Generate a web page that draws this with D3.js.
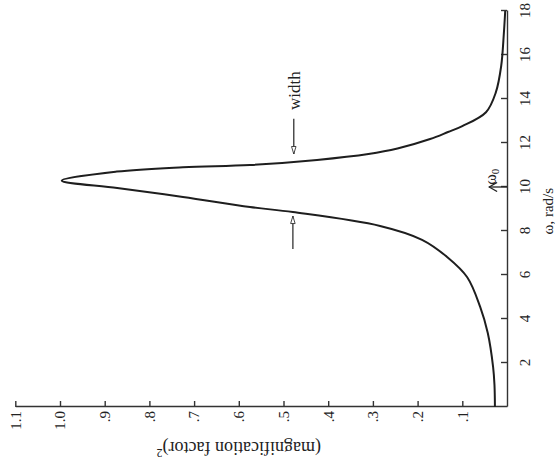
<!DOCTYPE html>
<html lang="en">
<head>
    <meta charset="UTF-8">
    <script src="https://d3js.org/d3.v7.min.js"></script>
    <title>Resonance curve</title>
    <style>
        body { margin: 0; background: #fff; }
        text { font-family: "Liberation Serif", "DejaVu Serif", serif; fill: #222; }
    </style>
</head>
<body>
    <script>
        var omega = [0, 1, 1.8, 3.36, 4.55, 5.9, 6.82, 7.6, 8.23, 8.86, 9.09, 9.55, 9.95, 10.29,
                     10.7, 10.9, 11.0, 11.23, 11.5, 11.75, 12.18, 12.5, 12.77, 13.4, 14.3, 15.5, 17, 18];
        var magSq = [0.027, 0.028, 0.031, 0.043, 0.06, 0.089, 0.134, 0.19, 0.284, 0.479, 0.575, 0.725, 0.872, 0.996,
                     0.873, 0.725, 0.575, 0.425, 0.31, 0.245, 0.172, 0.132, 0.1, 0.047, 0.025, 0.013, 0.007, 0.004];
        var omegaTicks = [2, 4, 6, 8, 10, 12, 14, 16, 18];
        var magTicks = [0.1, 0.2, 0.3, 0.4, 0.5, 0.6, 0.7, 0.8, 0.9, 1.0, 1.1];
        var magLabels = [".1", ".2", ".3", ".4", ".5", ".6", ".7", ".8", ".9", "1.0", "1.1"];

        var data = omega.map(function(w, i) { return { w: w, m: magSq[i] }; });

        var W = 396, H = 491.7;
        var svg = d3.select("body").append("svg")
            .attr("width", 555)
            .attr("height", 471);

        // the chart is printed turned a quarter turn counter-clockwise
        var g = svg.append("g")
            .attr("transform", "translate(15.3,407) rotate(-90)");

        var x = d3.scaleLinear().domain([0, 18]).range([0, W]);
        var y = d3.scaleLinear().domain([0, 1.1]).range([H, 0]);

        var xAxis = g.append("g")
            .attr("transform", "translate(0," + H + ")")
            .call(d3.axisBottom(x).tickValues(omegaTicks).tickSizeInner(-6).tickSizeOuter(0).tickPadding(12));
        xAxis.selectAll("text").attr("font-size", 15);

        var yAxis = g.append("g")
            .call(d3.axisLeft(y).tickValues(magTicks)
                .tickFormat(function(d, i) { return magLabels[i]; })
                .tickSizeInner(-6).tickSizeOuter(0).tickPadding(4));
        yAxis.selectAll("text").attr("font-size", 15);

        g.selectAll(".domain, .tick line").attr("stroke", "#333").attr("stroke-width", 1.4);
        g.selectAll(".tick text").attr("font-family", "Liberation Serif").attr("fill", "#222");

        var line = d3.line()
            .x(function(d) { return x(d.w); })
            .y(function(d) { return y(d.m); })
            .curve(d3.curveCatmullRom.alpha(0.5));

        g.append("path")
            .datum(data)
            .attr("d", line)
            .attr("fill", "none")
            .attr("stroke", "#1e1e1e")
            .attr("stroke-width", 2);

        // arrow heads
        var defs = svg.append("defs");
        defs.append("marker")
            .attr("id", "head")
            .attr("viewBox", "0 -4 10 8")
            .attr("refX", 10).attr("refY", 0)
            .attr("markerWidth", 10).attr("markerHeight", 6)
            .attr("markerUnits", "userSpaceOnUse")
            .attr("orient", "auto")
            .append("path")
            .attr("d", "M0,-3L10,0L0,3Z")
            .attr("fill", "#fff")
            .attr("stroke", "#333")
            .attr("stroke-width", 1.2);
        defs.append("marker")
            .attr("id", "open")
            .attr("viewBox", "-10 -5 11 10")
            .attr("refX", 0).attr("refY", 0)
            .attr("markerWidth", 11).attr("markerHeight", 10)
            .attr("markerUnits", "userSpaceOnUse")
            .attr("orient", "auto")
            .append("path")
            .attr("d", "M-8,-4.5L0,0L-8,4.5")
            .attr("fill", "none")
            .attr("stroke", "#222")
            .attr("stroke-width", 1.3);

        // width arrows
        g.append("line")
            .attr("x1", x(7.18)).attr("x2", x(8.68))
            .attr("y1", y(0.479)).attr("y2", y(0.479))
            .attr("stroke", "#333").attr("stroke-width", 1.3)
            .attr("marker-end", "url(#head)");
        g.append("line")
            .attr("x1", x(13.1)).attr("x2", x(11.5))
            .attr("y1", y(0.477)).attr("y2", y(0.477))
            .attr("stroke", "#333").attr("stroke-width", 1.3)
            .attr("marker-end", "url(#head)");
        g.append("text")
            .attr("x", x(13.5)).attr("y", y(0.477))
            .attr("dy", "0.35em")
            .attr("font-size", 17)
            .text("width");

        // omega_0 marker
        g.append("line")
            .attr("x1", x(10)).attr("x2", x(10))
            .attr("y1", y(0)).attr("y2", y(0.04))
            .attr("stroke", "#222").attr("stroke-width", 1.3)
            .attr("marker-end", "url(#open)");
        var w0 = g.append("text")
            .attr("x", x(10.1)).attr("y", y(0.035))
            .attr("dy", "0.3em")
            .attr("font-size", 16);
        w0.append("tspan").text("ω");
        w0.append("tspan").attr("font-size", 11).attr("dy", "0.3em").text("0");

        // axis titles
        g.append("text")
            .attr("x", x(8.9)).attr("y", H + 41)
            .attr("dy", "0.35em")
            .attr("text-anchor", "middle")
            .attr("font-size", 15)
            .text("ω, rad/s");

        var yt = g.append("text")
            .attr("transform", "translate(-41," + y(0.6) + ") rotate(-90)")
            .attr("dy", "0.35em")
            .attr("text-anchor", "middle")
            .attr("font-size", 18);
        yt.append("tspan").text("(magnification factor)");
        yt.append("tspan").attr("font-size", 12).attr("dy", "-0.6em").text("2");
    </script>
</body>
</html>
